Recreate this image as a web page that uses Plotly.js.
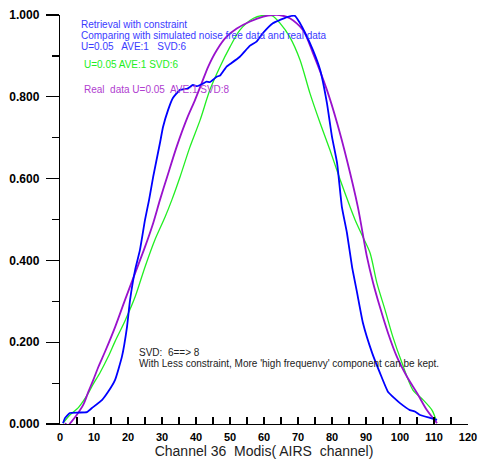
<!DOCTYPE html>
<html>
<head>
<meta charset="utf-8">
<script src="https://cdn.plot.ly/plotly-3.0.1.min.js"></script>
<style>html,body{margin:0;padding:0;background:#fff;}#chart{width:479px;height:462px;}</style>
</head>
<body>
<div id="chart"></div>
<script>
// Blue: retrieval with constraint, simulated noise-free data (SVD:6)
const blueX = [0.9,1.5,2.9,5.5,7.9,9.4,12.4,14.1,16.2,18.2,19.7,20.6,22.1,23.5,25.0,26.2,27.4,29.4,30.3,31.8,33.2,35.3,37.5,39.1,40.3,42.0,43.1,44.1,46.1,47.1,49.0,50.0,52.9,55.9,57.8,59.7,62.6,64.7,66.8,69.1,70.6,72.1,74.4,76.5,78.5,80.0,81.5,82.9,84.4,85.9,87.4,89.1,91.8,94.1,96.5,98.5,100.0,102.9,104.5,105.9,108.8,110.9];
const blueY = [0.002,0.015,0.027,0.028,0.029,0.039,0.059,0.078,0.108,0.164,0.237,0.303,0.377,0.425,0.499,0.548,0.604,0.687,0.726,0.768,0.797,0.817,0.820,0.829,0.826,0.832,0.837,0.836,0.849,0.852,0.874,0.880,0.898,0.925,0.935,0.956,0.980,0.988,0.995,0.998,0.980,0.956,0.914,0.866,0.785,0.702,0.638,0.531,0.467,0.384,0.320,0.247,0.174,0.125,0.078,0.062,0.051,0.034,0.030,0.022,0.015,0.010];

// Green: U=0.05 AVE:1 SVD:6
const greenX = [0.9,2.9,5.4,7.8,9.8,11.8,14.2,16.2,19.1,22.1,25.0,27.9,30.9,32.9,35.3,38.2,41.2,44.1,47.1,50.0,52.9,56.9,60.8,62.5,64.7,67.6,70.6,73.5,76.5,79.4,82.4,85.3,86.8,89.1,91.2,93.2,95.6,97.9,100.6,103.8,106.8,109.4,110.6];
const greenY = [0.002,0.022,0.040,0.068,0.098,0.126,0.165,0.202,0.252,0.311,0.384,0.450,0.506,0.548,0.604,0.677,0.743,0.817,0.874,0.922,0.963,0.992,1.000,0.998,0.980,0.946,0.890,0.809,0.736,0.670,0.597,0.531,0.499,0.457,0.418,0.345,0.279,0.213,0.149,0.083,0.059,0.034,0.010];

// Purple: Real data U=0.05 AVE:1 SVD:8
const purpleX = [1.5,2.3,3.4,4.9,6.9,8.3,9.8,11.3,13.2,16.2,19.1,22.1,25.0,27.4,29.4,31.5,34.4,37.6,39.7,41.7,43.6,46.1,49.0,52.0,55.9,59.8,62.6,64.5,67.6,71.5,74.4,78.5,81.5,84.4,87.6,90.3,92.1,94.1,96.5,99.1,102.1,105.0,107.9,110.9];
const purpleY = [0.002,-0.004,0.006,0.022,0.048,0.078,0.108,0.140,0.176,0.237,0.303,0.369,0.433,0.491,0.548,0.604,0.680,0.752,0.792,0.834,0.874,0.914,0.947,0.967,0.984,0.996,1.000,1.000,0.992,0.963,0.907,0.817,0.736,0.645,0.531,0.408,0.345,0.286,0.222,0.164,0.115,0.076,0.034,0.002];

const FONT = "Arial, 'Liberation Sans', sans-serif";

const traces = [
  {x: greenX, y: greenY, mode: 'lines', line: {color: '#22ee22', width: 1.3, shape: 'spline', smoothing: 0.8}, hoverinfo: 'skip'},
  {x: purpleX, y: purpleY, mode: 'lines', line: {color: '#9911cc', width: 1.8, shape: 'spline', smoothing: 0.8}, hoverinfo: 'skip'},
  {x: blueX, y: blueY, mode: 'lines', line: {color: '#0000ff', width: 1.8, shape: 'spline', smoothing: 0.4}, hoverinfo: 'skip'}
];

function ann(text, x, y, color) {
  return {text: text, x: x, y: y, xref: 'x', yref: 'y', xanchor: 'left', yanchor: 'middle',
          showarrow: false, align: 'left', font: {family: FONT, size: 10, color: color}};
}

const layout = {
  width: 479, height: 462,
  margin: {l: 60, r: 11, t: 15, b: 38},
  paper_bgcolor: '#fff', plot_bgcolor: '#fff',
  showlegend: false,
  font: {family: FONT, color: '#000'},
  xaxis: {
    range: [0, 120], dtick: 10, tick0: 0,
    showgrid: false, zeroline: false,
    showline: true, linecolor: '#000', linewidth: 1.2,
    ticks: 'inside', ticklen: 7, tickwidth: 1.2, tickcolor: '#000',
    minor: {dtick: 5, ticks: 'inside', ticklen: 7, tickwidth: 1.2, tickcolor: '#000'},
    tickfont: {family: FONT, size: 11, weight: 'bold', color: '#000'},
    ticklabelstandoff: 3,
    title: {text: 'Channel 36\u00a0 Modis( AIRS\u00a0 channel)', font: {family: FONT, size: 14, color: '#222'}, standoff: 3}
  },
  yaxis: {
    range: [0, 1], dtick: 0.2, tick0: 0, tickformat: '.3f',
    showgrid: false, zeroline: false,
    showline: true, linecolor: '#000', linewidth: 1.2,
    ticks: 'outside', ticklen: 13, tickwidth: 1.2, tickcolor: '#000',
    minor: {dtick: 0.1, ticks: 'outside', ticklen: 7, tickwidth: 1.2, tickcolor: '#000'},
    tickfont: {family: FONT, size: 12, weight: 'bold', color: '#000'},
    ticklabelstandoff: 4
  },
  annotations: [
    ann('Retrieval with constraint', 5.6, 0.978, '#3a3aff'),
    ann('Comparing with simulated noise free data and real data', 5.6, 0.950, '#3a3aff'),
    ann('U=0.05\u00a0\u00a0 AVE:1\u00a0\u00a0 SVD:6', 5.6, 0.922, '#3a3aff'),
    ann('U=0.05 AVE:1 SVD:6', 6.5, 0.880, '#22ee22'),
    ann('Real\u00a0 data U=0.05\u00a0 AVE:1 SVD:8', 6.5, 0.817, '#b040d0'),
    ann('SVD:\u00a0 6==> 8', 22.6, 0.176, '#222'),
    ann("With Less constraint, More 'high frequenvy' component can be kept.", 22.6, 0.148, '#222')
  ]
};

Plotly.newPlot('chart', traces, layout, {displayModeBar: false, staticPlot: true});
</script>
</body>
</html>
